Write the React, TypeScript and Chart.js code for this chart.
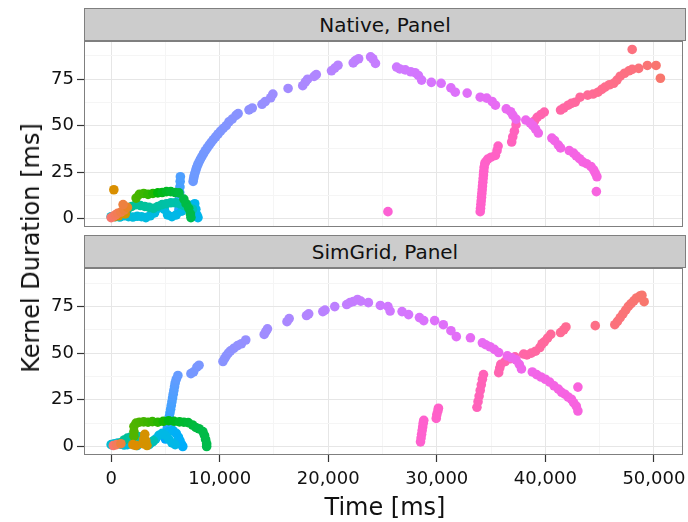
import React, { useEffect, useRef } from "react";
import { Chart, registerables } from "chart.js";
Chart.register(...registerables);

// ---- axes ----
const X_MIN = -2500;
const X_MAX = 52700;
const Y_MIN = -4.55;
const Y_MAX = 95.55;
const xMajorTicks = [0, 10000, 20000, 30000, 40000, 50000];
const xMinorTicks = [5000, 15000, 25000, 35000, 45000];
const yMajorTicks = [0, 25, 50, 75];
const yMinorTicks = [12.5, 37.5, 62.5, 87.5];
const panelLabels = ["Native, Panel", "SimGrid, Panel"];
const xTitle = "Time [ms]";
const yTitle = "Kernel Duration [ms]";

// ---- Native panel data: [time ms, kernel duration ms] ----
const nativeRed = [[0, 0.5], [200, 1.2], [400, 2], [600, 2.8], [900, 3.5], [1200, 4.5], [1500, 6], [1100, 7.5]];
const nativeGold = [[250, 15.5], [300, 1], [700, 1.5], [1300, 2.5]];
const nativeGreen = [[2300, 11], [2600, 13], [3000, 13.5], [3400, 13], [3850, 13.5], [4300, 13.8], [4700, 14], [5100, 14.5], [5500, 14.5], [5900, 14], [6250, 13.8], [6700, 10.5], [6900, 8], [7150, 5.5], [7300, 2.5], [7350, 0.5]];
const nativeTeal = [[1500, 5], [1900, 6.5], [2300, 7.5], [2700, 7], [3100, 6.5], [3500, 6], [3900, 5.5], [4300, 6.5], [4700, 7.5], [5100, 8], [5500, 8.5], [5900, 8.5], [6300, 8], [6700, 7], [7100, 6.5], [7500, 5]];
const nativeCyan = [[0, 1], [400, 1], [800, 0.8], [1200, 1.5], [1600, 1], [2000, 0.8], [2400, 1.2], [2800, 1], [3200, 0.5], [3600, 1.5], [4000, 3], [4300, 5.5], [4600, 7], [4900, 5], [5200, 2], [5600, 1], [6000, 2], [6500, 4], [7000, 6], [7400, 7], [7700, 8], [7800, 5], [7900, 2], [8000, 0.5]];
const nativeBlue = [[6250, 5], [6280, 8], [6300, 11], [6320, 14], [6340, 17], [6360, 20], [6380, 22.5]];
const nativeArc = [[7550, 20], [7600, 21.5], [7650, 23], [7720, 24.5], [7800, 26], [7880, 27.5], [7980, 29], [8100, 30.5], [8230, 32], [8370, 33.5], [8520, 35], [8680, 36.5], [8850, 38], [9030, 39.5], [9220, 41], [9420, 42.5], [9630, 44], [9850, 45.5], [10080, 47], [10320, 48.5], [10600, 50], [10850, 52], [11150, 53.5], [11500, 55.5], [11700, 56.5], [12700, 58.5], [13000, 59.5], [13900, 61.5], [14200, 63], [14700, 65], [14900, 67], [16300, 70], [17650, 71.5], [17900, 73.5], [18100, 75], [18700, 76.5], [18900, 77.5], [20300, 79.5], [20600, 81], [20900, 82.5], [22300, 83.8], [22500, 85], [22800, 86], [23900, 87], [24100, 86], [24350, 83.5], [26300, 81.5], [26600, 80.5], [27100, 80], [27600, 79], [28000, 78.5], [28300, 77], [28600, 74.5], [29500, 73.3], [30400, 72.8], [31300, 70.3], [31700, 68], [32800, 67.5], [34000, 65.3], [34600, 64.8], [35100, 63], [35400, 61], [36400, 59], [36800, 57.5], [37000, 55.7], [37300, 53.5], [38200, 53], [38600, 51.5], [38850, 50], [39100, 48.2], [39350, 46], [40600, 43.3], [40850, 42], [41200, 39.5], [41400, 38], [42200, 36.6], [42600, 35.2], [42850, 33.7], [43150, 32.2], [43450, 30.5], [43800, 29.5], [44200, 28], [44450, 26.2], [44600, 24.5], [44750, 22.5], [44700, 14.5]];
const nativeLone = [[25500, 3.7]];
const nativePink = [[34000, 3.7], [34030, 5.5], [34060, 7.5], [34090, 9.5], [34120, 11.5], [34150, 13.5], [34180, 15.5], [34210, 17.5], [34240, 19.5], [34270, 21.5], [34300, 23.5], [34330, 25.5], [34360, 27.5], [34420, 29.5], [34500, 30.5], [34700, 32], [35000, 33], [35400, 34], [35550, 36.5], [35650, 39], [36900, 41.2], [37000, 44], [37150, 47], [37300, 50.5], [38800, 50.9], [39000, 52.5], [39250, 54.5], [39600, 56], [39900, 57.3], [41400, 58.4], [41700, 59.5], [42100, 61], [42400, 62], [42750, 62.6], [43200, 65.3], [43900, 66.4], [44400, 67], [44850, 68], [45200, 69.5], [45500, 70.7], [45900, 72], [46300, 72.8], [46600, 74.5], [46900, 76.6], [47300, 78.2], [47700, 79.5], [48000, 80.3], [48600, 80.8], [49400, 82.4], [50200, 82.4], [50600, 75.5], [48000, 91]];

// ---- SimGrid panel data ----
const simRed = [[200, 0.5], [500, 1], [900, 1.5]];
const simGold = [[2000, 1], [2300, 0.5], [2900, 1.5], [3000, 4], [3100, 6.5], [3200, 3], [3300, 0.5]];
const simGreen = [[2100, 5.5], [2100, 8], [2100, 10.8], [2300, 12.5], [2600, 13], [3000, 13.2], [3400, 13], [3800, 13.3], [4300, 13], [4800, 13.5], [5300, 13.8], [5800, 13.5], [6300, 13.2], [6700, 13], [7100, 12.8], [7500, 11.5], [7800, 10.2], [8100, 9.5], [8450, 8], [8600, 6], [8700, 3.8], [8800, 1.5], [8800, 0]];
const simTeal = [[900, 2], [1200, 3.5], [1500, 4.5], [1800, 5], [2100, 5.5], [2400, 5.5], [2700, 5], [3000, 3], [3300, 1.5], [3600, 2], [3900, 3]];
const simCyan = [[0, 1], [300, 1.5], [600, 1.8], [900, 1.2], [1200, 0.8], [1500, 1], [1800, 1.5], [2100, 1], [2400, 0.5], [3500, 1], [3800, 2.5], [4100, 4], [4400, 6], [4700, 7], [5000, 6], [5300, 4], [5600, 2], [5900, 1]];
const simBlue = [[5300, 8], [5700, 8.5], [6000, 7], [6200, 5], [6350, 3], [6500, 1], [6600, 0]];
const simSteep = [[5000, 4], [5060, 6], [5120, 8], [5180, 10], [5240, 12], [5300, 14], [5360, 16], [5420, 18], [5480, 20], [5540, 22], [5600, 24], [5660, 26], [5720, 28], [5780, 30], [5840, 32], [5900, 34], [6000, 36], [6150, 38]];
const simArc = [[7350, 39], [7600, 40], [7900, 42.5], [8100, 43.5], [10300, 45.5], [10450, 47], [10600, 48.5], [10800, 50], [11000, 51.2], [11300, 52.5], [11650, 54], [12000, 55], [12400, 57], [14100, 60], [14250, 61.5], [14400, 63], [16200, 66.8], [16400, 68.5], [18000, 70.1], [18200, 71], [19500, 72.2], [19700, 73], [20600, 74.9], [21700, 76], [22000, 77], [22300, 77.6], [22700, 78.7], [23000, 77.8], [23700, 77], [24800, 75.5], [25500, 74.9], [25700, 72.5], [26800, 72.2], [27400, 70.6], [28400, 69], [28800, 67.4], [29800, 67.4], [30600, 65.2], [31300, 62], [31800, 58.8], [33100, 58.2], [34200, 55.5], [34500, 54.5], [34900, 53.4], [35300, 52], [35700, 50.3], [36500, 48.5], [36900, 47.5], [37300, 46.4], [37600, 44], [37800, 41.5], [38800, 39.9], [39200, 38.5], [39600, 37.2], [40000, 36], [40400, 34.5], [40800, 32.5], [41200, 30.7], [41500, 29], [41800, 28], [42100, 26.5], [42400, 25.3], [42600, 23.5], [42850, 21.6], [43000, 19]];
const simLone = [[43000, 31.8]];
const simPink = [[28500, 2.5], [28550, 4.5], [28600, 6.5], [28650, 8.5], [28700, 10.5], [28750, 12.5], [28800, 14], [29950, 15], [30000, 17], [30100, 19], [30150, 20.5], [33700, 21], [33800, 24], [33900, 27], [34000, 30], [34100, 33], [34200, 36], [34300, 38.5], [35700, 39.5], [35800, 42], [35900, 44], [36300, 45.5], [36800, 47], [37200, 48], [38000, 49.5], [38300, 49], [38700, 50], [39100, 51], [39500, 53], [39700, 55], [39900, 56], [40200, 58], [40500, 60], [41400, 61], [41700, 62.5], [41900, 64], [44600, 64.7], [46400, 65.2], [46650, 67], [46900, 69], [47150, 71], [47400, 73], [47650, 75], [47900, 76.5], [48150, 78], [48400, 79.5], [48700, 80.5], [48900, 81], [49100, 77.5]];

// ---- colour styling (ggplot hue palette, hue ranges per group) ----
const nativeGroups: [number[][], number, number][] = [
  [nativeRed, 15, 35], [nativeGold, 50, 58], [nativeGreen, 120, 140], [nativeTeal, 168, 185],
  [nativeCyan, 205, 222], [nativeBlue, 248, 252], [nativeArc, 257, 318], [nativeLone, 325, 325], [nativePink, 330, 375],
];
const simGroups: [number[][], number, number][] = [
  [simRed, 15, 30], [simGold, 45, 55], [simGreen, 118, 140], [simTeal, 168, 185], [simCyan, 205, 218],
  [simBlue, 225, 235], [simSteep, 246, 256], [simArc, 259, 318], [simLone, 320, 320], [simPink, 328, 375],
];

function hcl(h: number, c = 100, l = 65): string {
  const hr = (h * Math.PI) / 180;
  const U = c * Math.cos(hr);
  const V = c * Math.sin(hr);
  const Xn = 95.047, Yn = 100, Zn = 108.883;
  const Y = Yn * Math.pow((l + 16) / 116, 3);
  const den = Xn + 15 * Yn + 3 * Zn;
  const un = (4 * Xn) / den, vn = (9 * Yn) / den;
  const up = U / (13 * l) + un;
  const vp = V / (13 * l) + vn;
  const X = (Y * 9 * up) / (4 * vp);
  const Z = (Y * (12 - 3 * up - 20 * vp)) / (4 * vp);
  const x = X / 100, y = Y / 100, z = Z / 100;
  const lin = [
    3.2406 * x - 1.5372 * y - 0.4986 * z,
    -0.9689 * x + 1.8758 * y + 0.0415 * z,
    0.0557 * x - 0.204 * y + 1.057 * z,
  ];
  const out = lin.map((v) => {
    const g = v <= 0.0031308 ? 12.92 * v : 1.055 * Math.pow(v, 1 / 2.4) - 0.055;
    return Math.round(Math.min(1, Math.max(0, g)) * 255);
  });
  return `rgb(${out[0]},${out[1]},${out[2]})`;
}

const MAJOR_GRID = "#E6E6E6";
const MINOR_GRID = "#F5F5F5";
const TEXT = "#111111";
const FONT = "DejaVu Sans";

const borderPlugin = {
  id: "panelBorder",
  afterDraw(chart: any) {
    const { ctx, chartArea: a } = chart;
    ctx.save();
    ctx.strokeStyle = "#7F7F7F";
    ctx.lineWidth = 1;
    ctx.strokeRect(Math.round(a.left) + 0.5, Math.round(a.top) + 0.5, Math.round(a.right - a.left) - 1, Math.round(a.bottom - a.top) - 1);
    ctx.restore();
  },
};

function buildDatasets(groups: [number[][], number, number][]) {
  return groups.map(([pts, h0, h1]) => {
    const xs = pts.map((p) => p[0]);
    const t0 = Math.min(...xs), t1 = Math.max(...xs);
    const colors = pts.map((p) => hcl(t1 > t0 ? h0 + ((p[0] - t0) / (t1 - t0)) * (h1 - h0) : h0));
    return {
      data: pts.map((p) => ({ x: p[0], y: p[1] })),
      pointBackgroundColor: colors,
      pointBorderWidth: 0,
      pointRadius: 4.8,
      pointHoverRadius: 4.8,
    };
  });
}

function makePanel(canvas: HTMLCanvasElement, groups: [number[][], number, number][], bottom: boolean) {
  return new Chart(canvas, {
    type: "scatter",
    data: { datasets: buildDatasets(groups) as any },
    plugins: [borderPlugin],
    options: {
      animation: false,
      responsive: false,
      devicePixelRatio: 1,
      layout: { padding: { top: 5, bottom: bottom ? 0 : 5, left: 0, right: 2 } },
      plugins: { legend: { display: false }, tooltip: { enabled: false } },
      scales: {
        x: {
          type: "linear",
          min: X_MIN,
          max: X_MAX,
          afterBuildTicks: (s: any) => {
            s.ticks = [...xMajorTicks, ...xMinorTicks].map((v) => ({ value: v }));
          },
          afterFit: (s: any) => {
            s.height = bottom ? 67 : 0;
            s.paddingLeft = 0;
            s.paddingRight = 0;
          },
          border: { display: false },
          grid: {
            color: (c: any) => (xMajorTicks.includes(c.tick?.value) ? MAJOR_GRID : MINOR_GRID),
            drawTicks: bottom,
            tickLength: 7,
            tickWidth: 1.2,
            tickColor: (c: any) => (xMajorTicks.includes(c.tick?.value) ? "#333" : "rgba(0,0,0,0)"),
          },
          ticks: {
            display: bottom,
            autoSkip: false,
            maxRotation: 0,
            padding: 7,
            color: TEXT,
            font: { family: FONT, size: 18 },
            callback: (v: any) => (xMajorTicks.includes(Number(v)) ? Number(v).toLocaleString("en-US") : ""),
          },
        },
        y: {
          type: "linear",
          min: Y_MIN,
          max: Y_MAX,
          afterBuildTicks: (s: any) => {
            s.ticks = [...yMajorTicks, ...yMinorTicks].map((v) => ({ value: v }));
          },
          afterFit: (s: any) => {
            s.width = 84;
            s.paddingTop = 0;
            s.paddingBottom = 0;
          },
          border: { display: false },
          grid: {
            color: (c: any) => (yMajorTicks.includes(c.tick?.value) ? MAJOR_GRID : MINOR_GRID),
            tickLength: 7,
            tickWidth: 1.2,
            tickColor: (c: any) => (yMajorTicks.includes(c.tick?.value) ? "#333" : "rgba(0,0,0,0)"),
          },
          ticks: {
            autoSkip: false,
            padding: 3,
            color: TEXT,
            font: { family: FONT, size: 18 },
            callback: (v: any) => (yMajorTicks.includes(Number(v)) ? String(v) : ""),
          },
        },
      },
    } as any,
  });
}

const stripStyle = (top: number): React.CSSProperties => ({
  position: "absolute",
  left: 84,
  top,
  width: 602,
  height: 33,
  boxSizing: "border-box",
  background: "#CCCCCC",
  border: "1px solid #7F7F7F",
  display: "flex",
  alignItems: "center",
  justifyContent: "center",
  fontFamily: FONT,
  fontSize: 20,
  color: TEXT,
});

export default function App() {
  const ref1 = useRef<HTMLCanvasElement>(null);
  const ref2 = useRef<HTMLCanvasElement>(null);
  useEffect(() => {
    const c1 = makePanel(ref1.current!, nativeGroups, false);
    const c2 = makePanel(ref2.current!, simGroups, true);
    return () => {
      c1.destroy();
      c2.destroy();
    };
  }, []);
  return (
    <div style={{ position: "absolute", left: 0, top: 0, width: 688, height: 522, background: "#fff", overflow: "hidden" }}>
      <div style={stripStyle(8)}>{panelLabels[0]}</div>
      <canvas ref={ref1} width={688} height={196} style={{ position: "absolute", left: 0, top: 36, width: 688, height: 196 }} />
      <div style={stripStyle(235)}>{panelLabels[1]}</div>
      <canvas ref={ref2} width={688} height={259} style={{ position: "absolute", left: 0, top: 263, width: 688, height: 259 }} />
      <div
        style={{
          position: "absolute",
          left: 31,
          top: 248,
          transform: "translate(-50%, -50%) rotate(-90deg)",
          whiteSpace: "nowrap",
          fontFamily: FONT,
          fontSize: 24,
          color: TEXT,
        }}
      >
        {yTitle}
      </div>
      <div
        style={{
          position: "absolute",
          left: 385,
          top: 507,
          transform: "translate(-50%, -50%)",
          whiteSpace: "nowrap",
          fontFamily: FONT,
          fontSize: 24,
          color: TEXT,
        }}
      >
        {xTitle}
      </div>
    </div>
  );
}
